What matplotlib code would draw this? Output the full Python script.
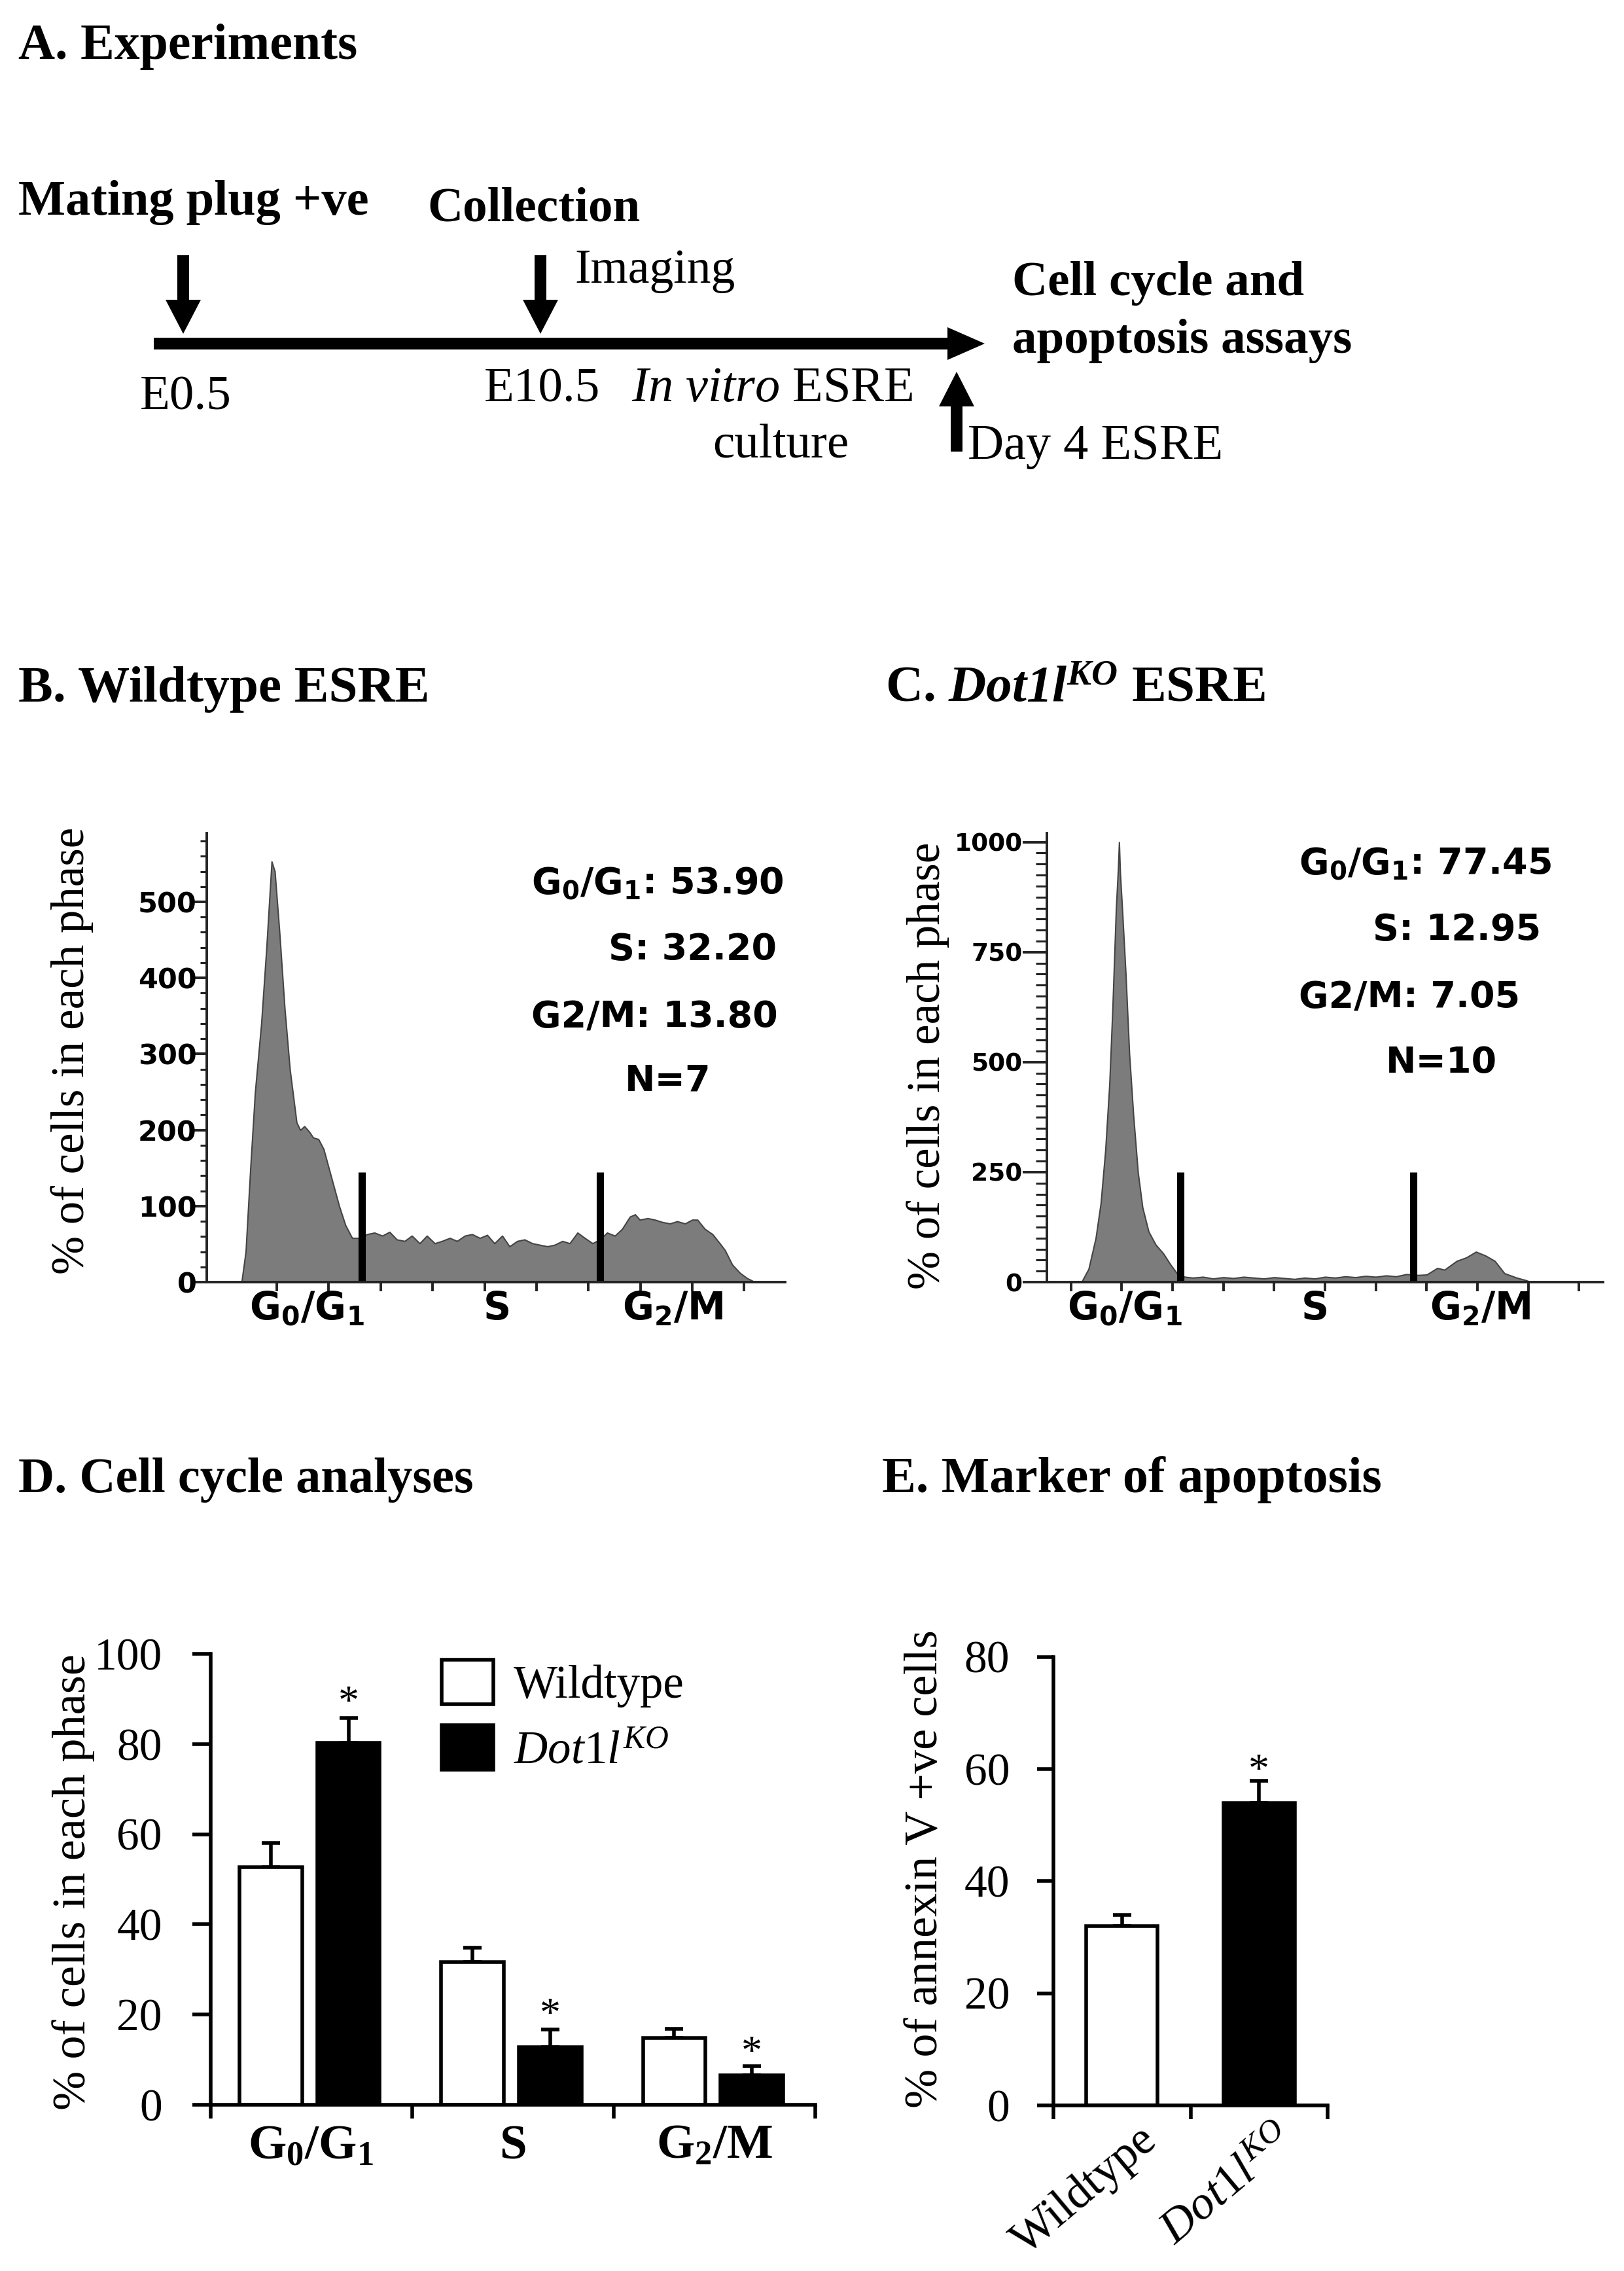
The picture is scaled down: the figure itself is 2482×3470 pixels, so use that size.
import matplotlib
matplotlib.use('Agg')
import matplotlib.pyplot as plt
import numpy as np
from matplotlib.patches import Polygon, Rectangle
from matplotlib.transforms import ScaledTranslation

# ---------------- data ----------------
# Panel B: wildtype DNA-content histogram (x in axis tick units, y = counts)
wt_hist_x = [0.32, 0.40, 0.49, 0.58, 0.70, 0.80, 0.90, 0.96, 1.05, 1.15, 1.25, 1.38, 1.45, 1.53, 1.62,
             1.70, 1.80, 1.90, 2.00, 2.10, 2.20, 2.32, 2.45, 2.59, 2.74, 2.88, 3.03, 3.17, 3.31, 3.46,
             3.60, 3.75, 3.89, 4.04, 4.18, 4.33, 4.47, 4.62, 4.76, 4.91, 5.05, 5.19, 5.34, 5.48, 5.63,
             5.77, 5.92, 6.06, 6.21, 6.35, 6.50, 6.64, 6.79, 6.93, 7.08, 7.22, 7.36, 7.51, 7.65, 7.80,
             7.90, 7.99, 8.14, 8.28, 8.42, 8.57, 8.71, 8.86, 9.00, 9.10, 9.24, 9.39, 9.53, 9.63, 9.77,
             9.92, 10.06, 10.21]
wt_hist_y = [0, 40, 150, 250, 340, 440, 553, 540, 460, 360, 280, 210, 200, 205, 198,
             190, 188, 175, 150, 125, 100, 75, 58, 58, 63, 65, 61, 66, 56, 54,
             61, 51, 61, 51, 54, 58, 54, 61, 63, 58, 62, 51, 61, 47, 54,
             56, 51, 49, 47, 49, 54, 51, 65, 58, 51, 56, 65, 61, 70, 86,
             89, 82, 84, 82, 79, 77, 80, 77, 82, 82, 70, 63, 51, 42, 23,
             12, 5, 0]
# Panel C: Dot1l KO histogram
ko_hist_x = [0.21, 0.35, 0.49, 0.59, 0.68, 0.76, 0.82, 0.89, 0.93, 0.95, 0.97, 1.01, 1.08, 1.15, 1.23,
             1.32, 1.41, 1.53, 1.67, 1.82, 1.96, 2.10, 2.24, 2.40, 2.60, 2.80, 3.00, 3.20, 3.40, 3.60,
             3.80, 4.00, 4.20, 4.40, 4.60, 4.80, 5.00, 5.20, 5.40, 5.60, 5.80, 6.00, 6.20, 6.40, 6.60,
             6.83, 7.00, 7.21, 7.35, 7.59, 7.78, 7.97, 8.16, 8.34, 8.53, 8.77, 8.96, 9.05]
ko_hist_y = [0, 30, 100, 180, 300, 450, 620, 850, 940, 1000, 930, 850, 700, 520, 380,
             250, 170, 115, 85, 65, 40, 18, 12, 10, 12, 8, 11, 9, 12, 10,
             8, 11, 9, 7, 10, 8, 12, 10, 13, 11, 14, 12, 15, 13, 18,
             16, 17, 32, 28, 48, 56, 69, 60, 48, 20, 10, 4, 0]
wt_gates = [2.64, 7.22]
ko_gates = [2.15, 6.74]
wt_gate_height = 145
ko_gate_height = 250
wt_phase_pos = [1.58, 5.24, 8.62]
ko_phase_pos = [1.06, 4.80, 8.06]
wt_stats = [r'$\mathbf{G_0/G_1}$: 53.90', 'S: 32.20', 'G2/M: 13.80', 'N=7']
ko_stats = [r'$\mathbf{G_0/G_1}$: 77.45', 'S: 12.95', 'G2/M: 7.05', 'N=10']

# Panel D: cell cycle analyses
phases = [r'$\mathbf{G_0/G_1}$', 'S', r'$\mathbf{G_2/M}$']
wt_pct = [52.7, 31.7, 14.8]
wt_pct_err = [5.3, 3.2, 2.1]
ko_pct = [80.2, 12.7, 6.5]
ko_pct_err = [5.6, 4.0, 2.1]
ko_star_y = [91.0, 21.8, 13.3]
legend_labels = ['Wildtype', r'$\mathit{Dot1l}^{\mathit{KO}}$']

# Panel E: annexin V
genotypes = ['Wildtype', r'$\mathit{Dot1l}^{\mathit{KO}}$']
annexin = [32.0, 53.9]
annexin_err = [2.0, 4.0]
annexin_star_y = [61.2]

# ---------------- style ----------------
SERIF = 'Liberation Serif'
SANS = 'DejaVu Sans'
plt.rcParams['mathtext.fontset'] = 'custom'
plt.rcParams['mathtext.rm'] = 'Liberation Serif'
plt.rcParams['mathtext.it'] = 'Liberation Serif:italic'
plt.rcParams['mathtext.bf'] = 'Liberation Serif:bold'
try:
    plt.rcParams['mathtext.bfit'] = 'Liberation Serif:italic:bold'
except Exception:
    pass

W, H = 2482, 3470
fig = plt.figure(figsize=(W / 100, H / 100), dpi=100)
fig.patch.set_facecolor('white')


def px_axes(l, t, r, b):
    ax = fig.add_axes([l / W, 1 - b / H, (r - l) / W, (b - t) / H])
    ax.patch.set_visible(False)
    return ax


def px_off(dx, dy):
    return ScaledTranslation(dx / 100, dy / 100, fig.dpi_scale_trans)


ax0 = fig.add_axes([0, 0, 1, 1])
ax0.set_xlim(0, W)
ax0.set_ylim(H, 0)
ax0.axis('off')


def T(x, y, s, size, weight='normal', style='normal', family=SERIF, math='custom', **kw):
    kw.setdefault('ha', 'left')
    kw.setdefault('va', 'baseline')
    return ax0.text(x, y, s, fontsize=size, fontweight=weight, fontstyle=style,
                    family=family, math_fontfamily=math, **kw)


# ---------------- Panel A (schematic) ----------------
T(28, 90, 'A. Experiments', 56, weight='bold')
T(28, 328, 'Mating plug +ve', 55, weight='bold')
T(653, 337, 'Collection', 54, weight='bold')
T(878, 432, 'Imaging', 53)
T(1547, 451, 'Cell cycle and', 54, weight='bold')
T(1547, 539, 'apoptosis assays', 54, weight='bold')
T(214, 626, 'E0.5', 54)
T(740, 613, 'E10.5', 54)
T(965, 613, r'$\mathit{In\ vitro}$ ESRE', 55)
T(1089, 699, 'culture', 54)
T(1479, 701, 'Day 4 ESRE', 55)

ax0.add_patch(Rectangle((235, 516), 1452 - 235, 18, color='k', lw=0))
ax0.add_patch(Polygon([(1448, 500), (1448, 550), (1505, 525)], closed=True, color='k', lw=0))
for cx in (280, 826):
    ax0.add_patch(Rectangle((cx - 9, 390), 18, 72, color='k', lw=0))
    ax0.add_patch(Polygon([(cx - 27, 458), (cx + 27, 458), (cx, 510)], closed=True, color='k', lw=0))
ax0.add_patch(Rectangle((1453, 616), 18, 74, color='k', lw=0))
ax0.add_patch(Polygon([(1435, 621), (1489, 621), (1462, 568)], closed=True, color='k', lw=0))

# ---------------- panel titles ----------------
T(28, 1072, 'B. Wildtype ESRE', 57, weight='bold')
T(1353, 1072, r'C. $\mathbfit{Dot1l}^{\mathbfit{KO}}$ ESRE', 57, weight='bold')
T(28, 2280, 'D. Cell cycle analyses', 55, weight='bold')
T(1348, 2280, 'E. Marker of apoptosis', 56, weight='bold')

# y labels
T(110, 1605, '% of cells in each phase', 51, rotation=90, ha='center', va='center')
T(1418, 1628, '% of cells in each phase', 51, rotation=90, ha='center', va='center')
T(112, 2875, '% of cells in each phase', 52, rotation=90, ha='center', va='center')
T(1415, 2856, '% of annexin V +ve cells', 52, rotation=90, ha='center', va='center')


# ---------------- Panels B, C: histograms ----------------
def histogram(ax, hx, hy, gates, gate_h, xlim, ylim, major, minor, mlen, nlen, tsize, tpad,
              phase_pos, xticks):
    ax.fill_between(hx, hy, 0, facecolor='#7c7c7c', edgecolor='#444444', lw=1.5, zorder=2)
    ax.vlines(gates, 0, gate_h, colors='k', lw=8, zorder=3)
    ax.set_xlim(*xlim)
    ax.set_ylim(*ylim)
    for s in ('top', 'right'):
        ax.spines[s].set_visible(False)
    for s in ('left', 'bottom'):
        ax.spines[s].set_linewidth(2.8)
        ax.spines[s].set_color('#222222')
        ax.spines[s].set_zorder(4)
    ax.set_xticks(xticks)
    ax.set_xticklabels([])
    ax.set_yticks(major)
    ax.set_yticks(minor, minor=True)
    ax.set_yticklabels([str(v) for v in major], fontsize=tsize, fontweight='bold', family=SANS)
    ax.tick_params(axis='y', which='major', direction='out', length=mlen, width=2.8, pad=tpad,
                   color='#222222')
    ax.tick_params(axis='y', which='minor', direction='out', length=nlen, width=2.2, color='#222222')
    ax.tick_params(axis='x', which='major', direction='out', length=10, width=2.8, color='#222222')
    tr = ax.get_xaxis_transform() + px_off(0, -57)
    for p, lab in zip(phase_pos, phases):
        ax.text(p, 0, lab, transform=tr, ha='center', va='baseline', fontsize=42,
                fontweight='bold', family=SANS, math_fontfamily='dejavusans')


axB = px_axes(316, 1273.4, 1200, 1959)
histogram(axB, wt_hist_x, wt_hist_y, wt_gates, wt_gate_height, (-0.35, 10.79), (0, 590),
          list(range(0, 501, 100)), list(range(0, 590, 20)), 14, 7, 31, -3, wt_phase_pos,
          list(range(1, 11)))
axC = px_axes(1600, 1273.2, 2450, 1959)
histogram(axC, ko_hist_x, ko_hist_y, ko_gates, ko_gate_height, (-0.47, 10.47), (0, 1020),
          list(range(0, 1001, 250)), list(range(0, 1020, 25)), 27, 12, 27, 0, ko_phase_pos,
          list(range(0, 11)))

for (x, yb), s in zip([(812, 1365), (930, 1466), (812, 1569), (955, 1666)], wt_stats):
    T(x, yb, s, 40, weight='bold', family=SANS, math='dejavusans')
for (x, yb), s in zip([(1985, 1335), (2098, 1436), (1985, 1539), (2118, 1639)], ko_stats):
    T(x, yb, s, 40, weight='bold', family=SANS, math='dejavusans')

# ---------------- Panel D: bar chart ----------------
axD = px_axes(321.5, 2527, 1246, 3216)
gx = np.arange(len(phases)) + 0.5
wt_x = gx - 0.20
ko_x = gx + 0.185
bw = 0.31
axD.bar(wt_x, wt_pct, bw, facecolor='white', edgecolor='k', lw=4, zorder=2)
axD.bar(ko_x, ko_pct, bw, facecolor='k', edgecolor='k', lw=4, zorder=2)
axD.errorbar(wt_x, wt_pct, yerr=[np.zeros(3), wt_pct_err], fmt='none', ecolor='k',
             elinewidth=4, capsize=10, capthick=4, zorder=1)
axD.errorbar(ko_x, ko_pct, yerr=[np.zeros(3), ko_pct_err], fmt='none', ecolor='k',
             elinewidth=4, capsize=10, capthick=4, zorder=1)
for x, y in zip(ko_x, ko_star_y):
    axD.text(x, y, '*', transform=axD.transData + px_off(0, -30), ha='center', va='baseline',
             fontsize=46, family=SERIF)
axD.set_xlim(0, 3)
axD.set_ylim(0, 100)
for s in ('top', 'right'):
    axD.spines[s].set_visible(False)
for s in ('left', 'bottom'):
    axD.spines[s].set_linewidth(4)
axD.set_xticks([0, 1, 2, 3])
axD.set_xticklabels([])
axD.set_yticks(range(0, 101, 20))
axD.set_yticklabels([str(v) for v in range(0, 101, 20)], fontsize=50, family=SERIF)
axD.tick_params(axis='y', direction='out', length=20, width=4, pad=33)
axD.tick_params(axis='x', direction='out', length=15, width=4)
trD = axD.get_xaxis_transform() + px_off(0, -82)
for p, lab in zip(gx, phases):
    axD.text(p, 0, lab, transform=trD, ha='center', va='baseline', fontsize=54,
             fontweight='bold', family=SERIF, math_fontfamily='custom')
handles = [Rectangle((0, 0), 1, 1, facecolor='white', edgecolor='k', lw=4),
           Rectangle((0, 0), 1, 1, facecolor='k', edgecolor='k', lw=4)]
leg = fig.legend(handles, legend_labels, loc='upper left',
                 bbox_to_anchor=(675 / W, 1 - 2536 / H), frameon=False,
                 prop={'family': SERIF, 'size': 51}, handlelength=1.12, handleheight=1.09,
                 handletextpad=0.43, labelspacing=0.39, borderpad=0, borderaxespad=0)

# ---------------- Panel E: annexin V ----------------
axE = px_axes(1610, 2531.5, 2029, 3217)
ex = np.arange(len(genotypes)) + 0.5
axE.bar(ex, annexin, 0.52, color=['white', 'k'], edgecolor='k', lw=4, zorder=2)
axE.errorbar(ex, annexin, yerr=[np.zeros(2), annexin_err], fmt='none', ecolor='k',
             elinewidth=4, capsize=10, capthick=4, zorder=1)
axE.text(ex[1], annexin_star_y[0], '*', transform=axE.transData + px_off(0, -30), ha='center',
         va='baseline', fontsize=46, family=SERIF)
axE.set_xlim(0, 2)
axE.set_ylim(0, 80)
for s in ('top', 'right'):
    axE.spines[s].set_visible(False)
for s in ('left', 'bottom'):
    axE.spines[s].set_linewidth(4)
axE.set_xticks([0, 1, 2])
axE.set_xticklabels([])
axE.set_yticks(range(0, 81, 20))
axE.set_yticklabels([str(v) for v in range(0, 81, 20)], fontsize=50, family=SERIF)
axE.tick_params(axis='y', direction='out', length=18, width=4, pad=30)
axE.tick_params(axis='x', direction='out', length=15, width=4)
trE = axE.get_xaxis_transform() + px_off(45, -45)
for p, lab in zip(ex, genotypes):
    axE.text(p, 0, lab, transform=trE, rotation=40, rotation_mode='anchor', ha='right',
             va='center', fontsize=52, family=SERIF, math_fontfamily='custom')

fig.savefig('out.png', dpi=100, facecolor='white')
